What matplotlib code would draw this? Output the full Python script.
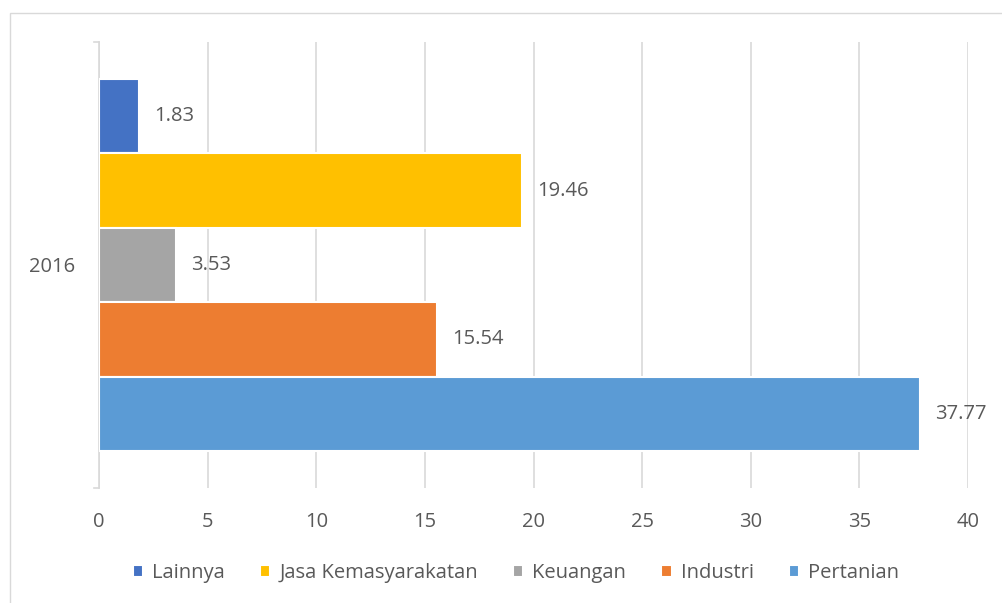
import matplotlib.pyplot as plt
from matplotlib.patches import Rectangle

# data
category = "2016"
series = ["Lainnya", "Jasa Kemasyarakatan", "Keuangan", "Industri", "Pertanian"]
values = [1.83, 19.46, 3.53, 15.54, 37.77]
colors = ["#4472C4", "#FFC000", "#A5A5A5", "#ED7D31", "#5B9BD5"]
x_ticks = [0, 5, 10, 15, 20, 25, 30, 35, 40]

text_color = "#595959"
grid_color = "#D9D9D9"
fs = 14.5

plt.rcParams["font.family"] = ["Open Sans", "DejaVu Sans"]

fig = plt.figure(figsize=(10.02, 6.03), dpi=100)
ax = fig.add_axes([99 / 1002, 1 - 488 / 603, (968 - 99) / 1002, (488 - 42) / 603])

# outer chart frame
fig.patches.append(Rectangle((10 / 1002, -0.1), 1.2, 1 - 13 / 603 + 0.1,
                             transform=fig.transFigure, fill=False,
                             edgecolor=grid_color, linewidth=1.0))

bar_h = 0.167
n = len(series)
for i, (name, val, col) in enumerate(zip(series, values, colors)):
    y = (i - (n - 1) / 2) * bar_h
    ax.barh(y, val, height=bar_h, color=col, edgecolor="white", linewidth=1.5,
            label=name, zorder=3)
    ax.annotate(f"{val:.2f}", (val, y), xytext=(11, 0), textcoords="offset points",
                va="center", ha="left", fontsize=fs, color=text_color)

ax.set_xlim(0, 40)
ax.set_ylim(0.5, -0.5)
ax.set_xticks(x_ticks)
ax.set_xticklabels([str(t) for t in x_ticks])
ax.set_yticks([0])
ax.set_yticklabels([category])

ax.grid(axis="x", color=grid_color, linewidth=1.2, zorder=0)
for s in ["top", "right", "bottom"]:
    ax.spines[s].set_visible(False)
ax.spines["left"].set_color(grid_color)
ax.spines["left"].set_linewidth(1.2)
ax.tick_params(axis="x", length=0, labelsize=fs, labelcolor=text_color, pad=17)
ax.tick_params(axis="y", length=0, labelsize=fs, labelcolor=text_color, pad=17)

# small ticks at the ends of the vertical axis
for yv in (-0.5, 0.5):
    ax.plot([-0.25, 0], [yv, yv], color=grid_color, linewidth=1.2, clip_on=False)

leg = fig.legend(loc="center", bbox_to_anchor=(516 / 1002, 1 - 573 / 603), ncol=5,
                 frameon=False, fontsize=fs, handlelength=0.5, handleheight=0.5,
                 handletextpad=0.45, columnspacing=1.75)
for t in leg.get_texts():
    t.set_color(text_color)

fig.savefig("out.png", dpi=100)
